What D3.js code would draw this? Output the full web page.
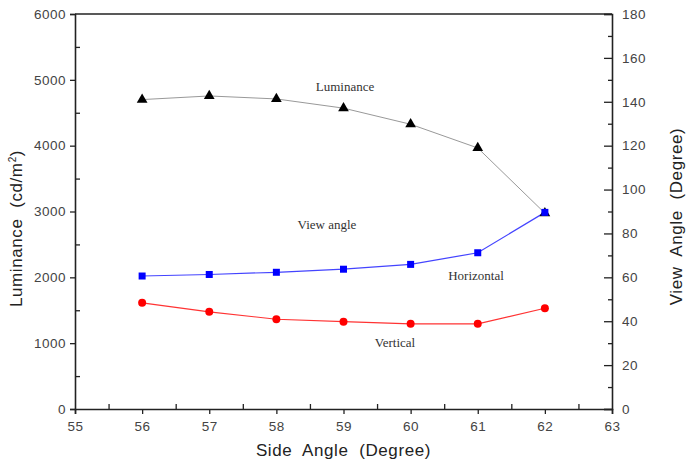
<!DOCTYPE html>
<html>
<head>
<meta charset="utf-8">
<script src="https://cdn.jsdelivr.net/npm/d3@7/dist/d3.min.js"></script>
<style>
  body { margin: 0; background: #fff; }
  .tick text { font-family: "Liberation Sans", Arial, sans-serif; font-size: 13.5px; fill: #444; letter-spacing: 0.5px; }
  .lbl { font-family: "Liberation Serif", "Times New Roman", serif; font-size: 13px; fill: #333; }
  .title { font-family: "Liberation Sans", Arial, sans-serif; font-size: 17px; fill: #222; white-space: pre; letter-spacing: 0.6px; }
</style>
</head>
<body>
<div id="chart"></div>
<script>
(function () {
  var angles = [56, 57, 58, 59, 60, 61, 62];
  var luminance = [4700, 4755, 4710, 4570, 4325, 3965, 2975];
  var horizontal = [60.6, 61.3, 62.3, 63.7, 65.9, 71.2, 89.6];
  var vertical = [48.4, 44.3, 40.9, 39.8, 38.8, 38.8, 45.9];
  var xTicks = [55, 56, 57, 58, 59, 60, 61, 62, 63];
  var yLeftTicks = [0, 1000, 2000, 3000, 4000, 5000, 6000];
  var yRightTicks = [0, 20, 40, 60, 80, 100, 120, 140, 160, 180];

  var width = 689, height = 462;
  var m = {left: 75, right: 77, top: 14, bottom: 53};
  var iw = width - m.left - m.right, ih = height - m.top - m.bottom;

  var svg = d3.select("#chart").append("svg")
    .attr("width", width)
    .attr("height", height);
  var g = svg.append("g").attr("transform", "translate(" + m.left + "," + m.top + ")");

  var x = d3.scaleLinear().domain([55, 63]).range([0, iw]);
  var yL = d3.scaleLinear().domain([0, 6000]).range([ih, 0]);
  var yR = d3.scaleLinear().domain([0, 180]).range([ih, 0]);

  // minor ticks (inward)
  var minorX = d3.range(55.5, 63, 1);
  var minorL = d3.range(500, 6000, 1000);
  var minorR = d3.range(10, 180, 20);

  g.append("g").attr("transform", "translate(0," + ih + ")")
    .call(d3.axisBottom(x).tickValues(minorX).tickSize(-5).tickFormat(""))
    .call(function (s) { s.select(".domain").remove(); });
  g.append("g")
    .call(d3.axisLeft(yL).tickValues(minorL).tickSize(-5).tickFormat(""))
    .call(function (s) { s.select(".domain").remove(); });
  g.append("g").attr("transform", "translate(" + iw + ",0)")
    .call(d3.axisRight(yR).tickValues(minorR).tickSize(-4).tickFormat(""))
    .call(function (s) { s.select(".domain").remove(); });

  // major axes
  g.append("g").attr("transform", "translate(0," + ih + ")")
    .call(d3.axisBottom(x).tickValues(xTicks).tickSize(5).tickPadding(7).tickFormat(d3.format("d")));
  g.append("g")
    .call(d3.axisLeft(yL).tickValues(yLeftTicks).tickSize(5).tickPadding(4).tickFormat(d3.format("d")));
  g.append("g").attr("transform", "translate(" + iw + ",0)")
    .call(d3.axisRight(yR).tickValues(yRightTicks).tickSize(-8).tickPadding(10).tickFormat(d3.format("d")));

  g.selectAll(".domain").attr("stroke", "#222").attr("stroke-width", 1.6);
  g.selectAll(".tick line").attr("stroke", "#222").attr("stroke-width", 1.3);

  // top frame
  g.append("line").attr("x1", 0).attr("x2", iw).attr("y1", 0).attr("y2", 0)
    .attr("stroke", "#222").attr("stroke-width", 1.6);

  var lumPts = angles.map(function (a, i) { return [x(a), yL(luminance[i])]; });
  var horPts = angles.map(function (a, i) { return [x(a), yR(horizontal[i])]; });
  var verPts = angles.map(function (a, i) { return [x(a), yR(vertical[i])]; });
  var line = d3.line();

  g.append("path").attr("d", line(lumPts)).attr("fill", "none").attr("stroke", "#999").attr("stroke-width", 1);
  g.append("path").attr("d", line(verPts)).attr("fill", "none").attr("stroke", "#ff3333").attr("stroke-width", 1.2);
  g.append("path").attr("d", line(horPts)).attr("fill", "none").attr("stroke", "#4444ff").attr("stroke-width", 1.2);

  g.selectAll(".tri").data(lumPts).enter().append("path")
    .attr("transform", function (d) { return "translate(" + d[0] + "," + d[1] + ")"; })
    .attr("d", d3.symbol().type(d3.symbolTriangle).size(50))
    .attr("fill", "#000");
  g.selectAll(".cir").data(verPts).enter().append("circle")
    .attr("cx", function (d) { return d[0]; }).attr("cy", function (d) { return d[1]; })
    .attr("r", 4).attr("fill", "#ff0000");
  g.selectAll(".sq").data(horPts).enter().append("rect")
    .attr("x", function (d) { return d[0] - 3.5; }).attr("y", function (d) { return d[1] - 3.5; })
    .attr("width", 7).attr("height", 7).attr("fill", "#0000ff");

  // inline labels
  var labels = [
    {t: "Luminance", x: 345, y: 91},
    {t: "View angle", x: 327, y: 229},
    {t: "Horizontal", x: 476, y: 280},
    {t: "Vertical", x: 395, y: 347}
  ];
  svg.selectAll(".lbl").data(labels).enter().append("text")
    .attr("class", "lbl").attr("text-anchor", "middle")
    .attr("x", function (d) { return d.x; }).attr("y", function (d) { return d.y; })
    .text(function (d) { return d.t; });

  // axis titles
  var lt = svg.append("text").attr("class", "title").attr("text-anchor", "middle")
    .attr("transform", "translate(22," + (m.top + ih / 2 + 17) + ") rotate(-90)");
  lt.append("tspan").text("Luminance  (cd/m");
  lt.append("tspan").attr("dy", -6).attr("font-size", "10px").text("2");
  lt.append("tspan").attr("dy", 6).text(")");

  svg.append("text").attr("class", "title").attr("text-anchor", "middle")
    .attr("transform", "translate(682," + (m.top + ih / 2 + 5) + ") rotate(-90)")
    .text("View  Angle  (Degree)");

  svg.append("text").attr("class", "title").attr("text-anchor", "middle")
    .attr("x", m.left + iw / 2).attr("y", 456)
    .text("Side  Angle  (Degree)");
})();
</script>
</body>
</html>
